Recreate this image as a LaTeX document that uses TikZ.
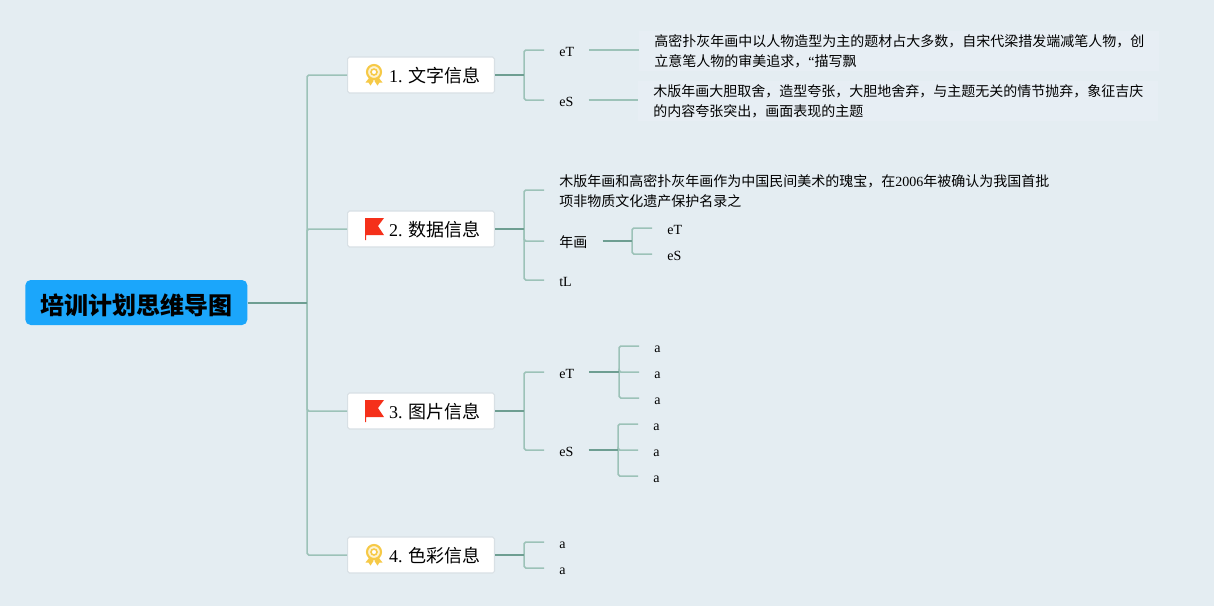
\documentclass[tikz,border=0pt]{standalone}
\usepackage{fontspec}
\setmainfont{Liberation Serif}
\newfontfamily\cjk{Noto Sans CJK SC}
\usetikzlibrary{positioning}
\definecolor{mapbg}{HTML}{E4EDF2}
\definecolor{mapblue}{HTML}{1BA6FB}
\definecolor{mapdark}{HTML}{6E9E92}
\definecolor{maplite}{HTML}{9CC2B8}
\definecolor{mapleaf}{HTML}{E7EEF4}
\definecolor{mapedge}{HTML}{D8E0E5}
\definecolor{mapgold}{HTML}{F6C946}
\definecolor{mapflag}{HTML}{F5301A}
\begin{document}
\begin{tikzpicture}[
    x=0.02cm,y=-0.02cm,
    rootbox/.style={fill=mapblue,rounded corners=3pt,anchor=west,inner sep=0pt,
                    minimum width=4.44cm,minimum height=0.9cm,
                    text height=0.52cm,text depth=0.06cm,
                    font=\fontsize{13.66pt}{16pt}\cjk\bfseries},
    topic/.style={draw=mapedge,line width=0.6pt,fill=white,rounded corners=1pt,anchor=west,inner sep=0pt,
                  minimum width=2.94cm,minimum height=0.72cm,
                  text height=0.36cm,text depth=0.044cm,
                  font=\fontsize{10.25pt}{12pt}\selectfont},
    leaf/.style={anchor=west,inner xsep=0.3cm,inner ysep=0.06cm,
                 text height=0.28cm,text depth=0.04cm,
                 font=\fontsize{7.97pt}{11.38pt}\selectfont},
    longleaf/.style={anchor=west,inner xsep=0.3cm,inner ysep=0.06cm,align=left,
                 font=\fontsize{7.97pt}{11.38pt}\selectfont},
    trunk/.style={draw=mapdark,line width=0.95pt},
    twig/.style={draw=maplite,line width=0.85pt,rounded corners=1pt},
    medal/.pic={
      \fill[mapgold] (-1,3) -- (-5,3) -- (-8.5,7.5) -- (-5.5,7.5) -- (-3.5,10.5) -- (-0.5,6) -- cycle;
      \fill[mapgold] (1,3) -- (5,3) -- (8.5,7.5) -- (5.5,7.5) -- (3.5,10.5) -- (0.5,6) -- cycle;
      \draw[mapgold,line width=1.2pt,fill=mapgold!25] (0,-3) circle[radius=7];
      \draw[mapgold,line width=0.9pt,fill=white] (0,-3) circle[radius=3];
    },
    flagicon/.pic={
      \fill[mapflag] (-9,-11) -- (10,-11) -- (4,-3) -- (10,6) -- (-8,6) -- (-8,11) -- (-9,11) -- cycle;
    }
  ]
    \path[use as bounding box,fill=mapbg] (0,0) rectangle (1214,606);

    \node[rootbox] (root) at (25,302.5) {培训计划思维导图};

    \node[topic] (txt) at (347,75) {\hspace*{0.56cm}1. {\cjk 文字信息}};
    \node[topic] (dat) at (347,229) {\hspace*{0.56cm}2. {\cjk 数据信息}};
    \node[topic] (img) at (347,411) {\hspace*{0.56cm}3. {\cjk 图片信息}};
    \node[topic] (col) at (347,555) {\hspace*{0.56cm}4. {\cjk 色彩信息}};
    \pic at (374,75) {medal};
    \pic at (374,229) {flagicon};
    \pic at (374,411) {flagicon};
    \pic at (374,555) {medal};

    % text branch
    \node[leaf] (txtT) at (544,50) {eT};
    \node[leaf] (txtS) at (544,100) {eS};
    \node[longleaf,fill=mapleaf] (txtTl) at (639,51) {\cjk 高密扑灰年画中以人物造型为主的题材占大多数，自宋代梁措发端减笔人物，创\\\cjk 立意笔人物的审美追求，{\normalfont “}描写飘};
    \node[longleaf,fill=mapleaf] (txtSl) at (638,101) {\cjk 木版年画大胆取舍，造型夸张，大胆地舍弃，与主题无关的情节抛弃，象征吉庆\\\cjk 的内容夸张突出，画面表现的主题};

    % data branch
    \node[longleaf] (datA) at (544,191.5) {{\cjk 木版年画和高密扑灰年画作为中国民间美术的瑰宝，在}2006{\cjk 年被确认为我国首批}\\\cjk 项非物质文化遗产保护名录之};
    \node[leaf] (datB) at (544,241) {\cjk 年画};
    \node[leaf] (datC) at (544,280) {tL};
    \node[leaf] (datT) at (652,228) {eT};
    \node[leaf] (datS) at (652,254) {eS};

    % image branch
    \node[leaf] (imgT) at (544,372) {eT};
    \node[leaf] (imgS) at (544,450) {eS};
    \node[leaf] (imgT1) at (639,346) {a};
    \node[leaf] (imgT2) at (639,372) {a};
    \node[leaf] (imgT3) at (639,398) {a};
    \node[leaf] (imgS1) at (638,424) {a};
    \node[leaf] (imgS2) at (638,450) {a};
    \node[leaf] (imgS3) at (638,476) {a};

    % colour branch
    \node[leaf] (colA) at (544,542) {a};
    \node[leaf] (colB) at (544,568) {a};

    \coordinate (rootJ) at (307,303);
    \coordinate (txtJ) at (524,75);
    \coordinate (datJ) at (524,229);
    \coordinate (imgJ) at (524,411);
    \coordinate (colJ) at (524,555);
    \coordinate (datBJ) at (632,241);
    \coordinate (imgTJ) at (619,372);
    \coordinate (imgSJ) at (618,450);
    \coordinate (datAJ) at (544,190);

    \foreach \a/\b in {txt/txtT,txt/txtS,dat/datB,dat/datC,img/imgT,img/imgS,col/colA,col/colB}
      \draw[twig] (\a J) |- (\b.west);
    \draw[twig] (datJ) |- (datAJ);
    \foreach \b in {txt,dat,img,col}
      \draw[twig] (rootJ) |- (\b.west);
    \foreach \b in {datT,datS}
      \draw[twig] (datBJ) |- (\b.west);
    \foreach \b in {imgT1,imgT2,imgT3}
      \draw[twig] (imgTJ) |- (\b.west);
    \foreach \b in {imgS1,imgS2,imgS3}
      \draw[twig] (imgSJ) |- (\b.west);
    \draw[twig] (txtT.east) -- (txtTl.west|-txtT.east);
    \draw[twig] (txtS.east) -- (txtSl.west|-txtS.east);

    \draw[trunk] (root.east|-rootJ) -- (rootJ);
    \draw[trunk] (txt.east) -- (txtJ);
    \draw[trunk] (dat.east) -- (datJ);
    \draw[trunk] (img.east) -- (imgJ);
    \draw[trunk] (col.east) -- (colJ);
    \draw[trunk] (datB.east) -- (datBJ);
    \draw[trunk] (imgT.east) -- (imgTJ);
    \draw[trunk] (imgS.east) -- (imgSJ);
  \end{tikzpicture}
\end{document}
